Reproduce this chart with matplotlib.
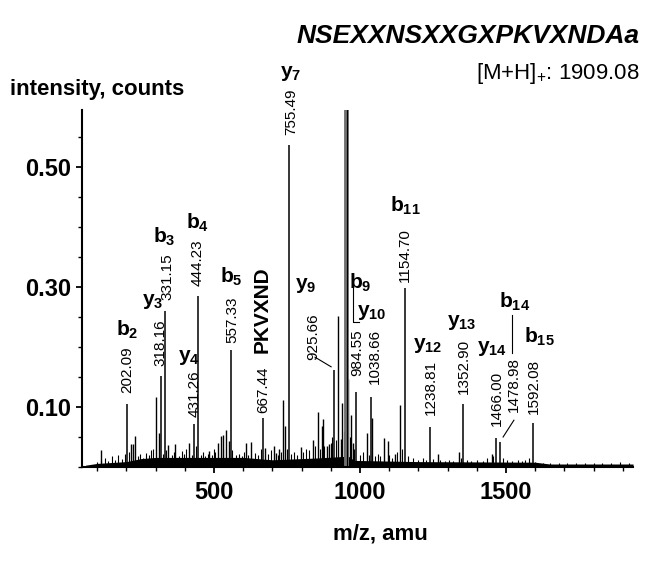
import matplotlib.pyplot as plt
from matplotlib.ticker import FixedLocator, MultipleLocator

plt.rcParams['font.family'] = ['Liberation Sans', 'DejaVu Sans']
plt.rcParams['mathtext.fontset'] = 'custom'
plt.rcParams['mathtext.rm'] = 'Liberation Sans'
plt.rcParams['mathtext.bf'] = 'Liberation Sans:bold'
plt.rcParams['mathtext.it'] = 'Liberation Sans:italic'

# Labelled fragment peaks (m/z, relative intensity)
frag_mz = [202.09, 318.16, 331.15, 431.26, 444.23, 557.33, 667.44, 755.49, 911.0,
           984.55, 1038.66, 1154.70, 1238.81, 1352.90, 1466.00, 1478.98, 1592.08]
frag_int = [0.105, 0.152, 0.260, 0.072, 0.285, 0.195, 0.082, 0.537, 0.162,
            0.125, 0.117, 0.298, 0.067, 0.105, 0.048, 0.042, 0.073]
frag_text = ['202.09', '318.16', '331.15', '431.26', '444.23', '557.33', '667.44', '755.49', '925.66',
             '984.55', '1038.66', '1154.70', '1238.81', '1352.90', '1466.00', '1478.98', '1592.08']

# Other visible peaks
other_mz = [113, 216, 222, 228, 301, 312, 343, 367, 414, 483, 513, 524, 532, 540, 550,
            610, 626, 675, 707, 711, 723, 737, 742, 797, 838, 855, 869, 872, 886, 894,
            926, 935, 939, 959, 969, 975, 1025, 1042, 1081, 1095, 1120, 1137, 1266,
            1339, 1451, 1579]
other_int = [0.028, 0.039, 0.039, 0.052, 0.117, 0.057, 0.037, 0.039, 0.040, 0.027, 0.040,
             0.052, 0.054, 0.061, 0.043, 0.040, 0.042, 0.032, 0.035, 0.024, 0.030, 0.111,
             0.069, 0.034, 0.045, 0.092, 0.069, 0.080, 0.035, 0.038, 0.252, 0.046, 0.107,
             0.147, 0.087, 0.040, 0.057, 0.081, 0.048, 0.043, 0.022, 0.103, 0.022, 0.025,
             0.022, 0.009]

# Precursor region peak (off scale)
precursor_mz = 952
precursor_int = 2.0

# Small baseline spikes
grass_mz = [100, 112, 125, 138, 150, 160, 172, 185, 195, 210, 238, 248, 258, 268, 276, 285,
            292, 325, 335, 355, 362, 380, 390, 398, 405, 423, 440, 455, 462, 470, 478, 492,
            500, 505, 532, 560, 575, 585, 595, 603, 618, 640, 652, 660, 685, 695, 718, 730,
            750, 765, 775, 785, 805, 815, 825, 845, 862, 878, 900, 905, 918, 945, 965, 978,
            1000, 1010, 1030, 1050, 1060, 1070, 1100, 1110, 1125, 1145, 1165, 1180, 1200,
            1215, 1225, 1250, 1275, 1290, 1305, 1320, 1345, 1365, 1380, 1400, 1420, 1435,
            1455, 1490, 1505, 1520, 1540, 1555, 1565, 1580, 1600, 1625, 1650, 1680, 1710,
            1740, 1770, 1800, 1830, 1860, 1890, 1920]
grass_int = [0.008, 0.012, 0.015, 0.010, 0.018, 0.012, 0.020, 0.014, 0.022, 0.025, 0.018,
             0.022, 0.015, 0.024, 0.020, 0.028, 0.030, 0.022, 0.028, 0.020, 0.025, 0.018,
             0.026, 0.022, 0.030, 0.020, 0.035, 0.020, 0.025, 0.018, 0.022, 0.020, 0.030,
             0.025, 0.030, 0.028, 0.020, 0.022, 0.018, 0.025, 0.020, 0.024, 0.020, 0.030,
             0.022, 0.028, 0.020, 0.025, 0.030, 0.022, 0.025, 0.020, 0.025, 0.030, 0.028,
             0.035, 0.030, 0.035, 0.040, 0.050, 0.045, 0.060, 0.050, 0.030, 0.020, 0.025,
             0.020, 0.018, 0.022, 0.018, 0.020, 0.015, 0.025, 0.030, 0.018, 0.015, 0.012,
             0.015, 0.012, 0.014, 0.012, 0.010, 0.012, 0.010, 0.015, 0.012, 0.010, 0.012,
             0.010, 0.015, 0.018, 0.015, 0.012, 0.010, 0.012, 0.010, 0.012, 0.015, 0.008,
             0.006, 0.007, 0.006, 0.007, 0.006, 0.007, 0.006, 0.007, 0.006, 0.008, 0.006]

# Baseline noise level
noise_mz = [60, 100, 200, 250, 300, 600, 700, 850, 960, 980, 1200, 1600, 1650, 1935]
noise_int = [0.003, 0.006, 0.009, 0.014, 0.016, 0.016, 0.012, 0.015, 0.018, 0.011,
             0.009, 0.008, 0.005, 0.005]

# Ion annotations
ion_names = ['b2', 'y3', 'b3', 'b4', 'y4', 'b5', 'y7', 'y9', 'b9', 'y10', 'b11',
             'y12', 'y13', 'y14', 'b14', 'b15']
ion_x = [202, 289, 329, 445, 414, 558, 762, 815, 1000, 1041, 1154, 1233, 1349, 1452, 1531, 1616]
ion_y = [0.228, 0.275, 0.383, 0.407, 0.182, 0.317, 0.656, 0.303, 0.307, 0.257, 0.435,
         0.203, 0.240, 0.198, 0.275, 0.217]

num_x = [202, 315, 339, 435, 445, 562, 668, 764, 839, 990, 1051, 1154, 1243, 1356, 1469, 1527, 1596]
num_y = [0.162, 0.207, 0.317, 0.123, 0.340, 0.245, 0.128, 0.592, 0.218, 0.190, 0.185,
         0.353, 0.132, 0.168, 0.115, 0.138, 0.135]

fig = plt.figure(figsize=(6.5, 5.81), dpi=100)
ax = fig.add_axes([0.1262, 0.1962, 0.8477, 0.6145])

ax.fill_between(noise_mz, 0, noise_int, color='black', lw=0)
ax.vlines(grass_mz, 0, grass_int, colors='black', lw=0.8)
ax.vlines(other_mz, 0, other_int, colors='black', lw=1.0)
ax.vlines(frag_mz, 0, frag_int, colors='black', lw=1.1)
ax.vlines(precursor_mz, 0, precursor_int, colors='#707070', lw=3.5)
ax.vlines(precursor_mz + 4, 0, precursor_int, colors='black', lw=0.8)

for t, x, y in zip(frag_text, num_x, num_y):
    ax.text(x, y, t, rotation=90, ha='center', va='center', fontsize=11)

for name, x, y in zip(ion_names, ion_x, ion_y):
    ax.text(x, y, r'$\mathbf{%s}_\mathbf{%s}$' % (name[0], name[1:]), ha='center',
            va='center', fontsize=15, clip_on=False)

ax.text(664, 0.262, 'PKVXND', rotation=90, ha='center', va='center',
        fontsize=15, fontweight='bold')

# leader lines
ax.plot([846, 901], [0.183, 0.167], color='black', lw=0.8)
ax.plot([976, 976, 997], [0.315, 0.242, 0.242], color='black', lw=0.8)
ax.plot([1527, 1490], [0.078, 0.050], color='black', lw=0.8)
ax.plot([1521, 1521], [0.253, 0.190], color='black', lw=0.8)

ax.set_xlim(48, 1935)
ax.set_ylim(0, 0.595)

ax.spines['top'].set_visible(False)
ax.spines['right'].set_visible(False)
ax.spines['left'].set_linewidth(1.5)
ax.spines['bottom'].set_linewidth(1.5)

ax.xaxis.set_major_locator(FixedLocator([500, 1000, 1500]))
ax.xaxis.set_minor_locator(MultipleLocator(100))
ax.yaxis.set_major_locator(FixedLocator([0.10, 0.30, 0.50]))
ax.yaxis.set_minor_locator(MultipleLocator(0.05))
ax.set_yticklabels(['0.10', '0.30', '0.50'])
ax.tick_params(which='major', direction='out', length=4, width=1.3, labelsize=17)
ax.tick_params(which='minor', direction='out', length=3, width=1.0)
ax.tick_params(axis='x', pad=6)
ax.tick_params(axis='y', pad=4)
for lab in ax.get_xticklabels() + ax.get_yticklabels():
    lab.set_fontweight('bold')

ax.set_xlabel('m/z, amu', fontsize=16, fontweight='bold')
ax.xaxis.set_label_coords(0.541, -0.157)

fig.text(0.0154, 0.8365, 'intensity, counts', fontsize=16, fontweight='bold', va='baseline')
fig.text(0.9846, 0.926, 'NSEXXNSXXGXPKVXNDAa', fontsize=19, fontweight='bold',
         fontstyle='italic', ha='right', va='baseline')
fig.text(0.9846, 0.864, r'[M+H]$_{+}$: 1909.08', fontsize=16, ha='right', va='baseline')

fig.savefig('out.png', dpi=100)
